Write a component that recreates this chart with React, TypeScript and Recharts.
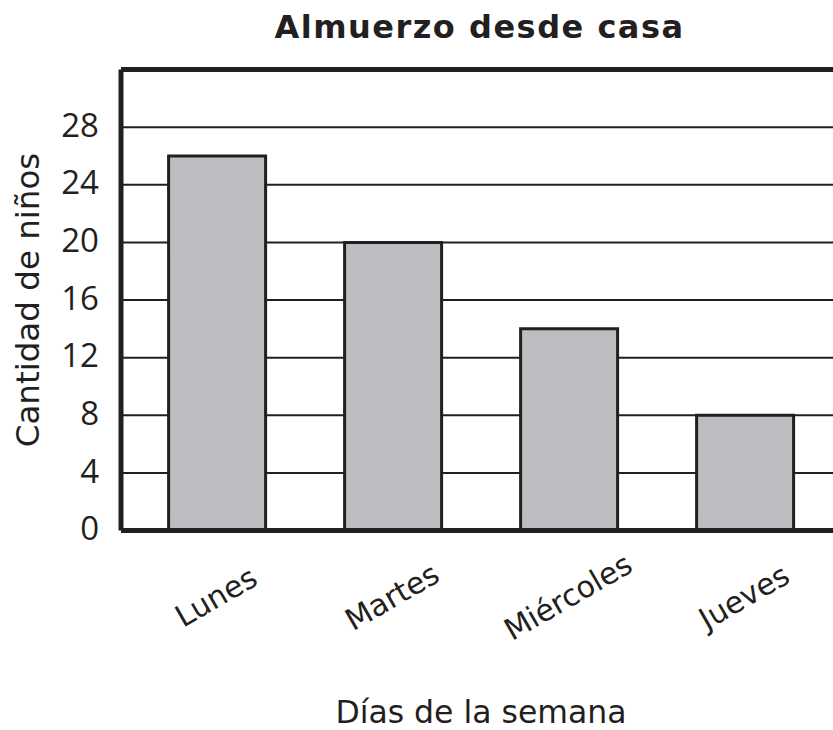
import { BarChart, Bar, XAxis, YAxis, CartesianGrid, ReferenceLine, Label } from 'recharts';

const days = ['Lunes', 'Martes', 'Miércoles', 'Jueves'];
const kids = [26, 20, 14, 8];
const yTicks = [0, 4, 8, 12, 16, 20, 24, 28];

const data = days.map((day, i) => ({ day, kids: kids[i] }));

const INK = '#231f20';
const FONT = '"DejaVu Sans", Verdana, sans-serif';

const DayTick = (props: any) => {
    const { x, y, payload } = props;
    const cy = y + 60;
    return (
        <text
            x={x}
            y={cy}
            textAnchor="middle"
            dominantBaseline="middle"
            fill={INK}
            fontSize={30}
            fontFamily={FONT}
            transform={`rotate(-30, ${x}, ${cy})`}
        >
            {payload.value}
        </text>
    );
};

export default function App() {
    return (
        <div style={{ position: 'absolute', left: 0, top: 0, width: 833, height: 730, overflow: 'hidden', background: '#fff' }}>
            <div
                style={{
                    position: 'absolute',
                    top: 8,
                    left: 0,
                    width: 833,
                    textAlign: 'center',
                    paddingLeft: 126,
                    boxSizing: 'border-box',
                    fontFamily: FONT,
                    fontWeight: 'bold',
                    fontSize: 32,
                    letterSpacing: 1.5,
                    color: INK,
                }}
            >
                Almuerzo desde casa
            </div>
            <BarChart
                width={860}
                height={730}
                data={data}
                margin={{ top: 69.5, right: 19, left: 0, bottom: 0 }}
                barCategoryGap="22.5%"
            >
                <CartesianGrid horizontal vertical={false} stroke={INK} strokeWidth={2} />
                <XAxis
                    dataKey="day"
                    axisLine={{ stroke: INK, strokeWidth: 5 }}
                    tickLine={false}
                    tick={<DayTick />}
                    interval={0}
                    padding={{ left: 8, right: 8 }}
                    height={199.5}
                >
                    <Label value="Días de la semana" position="insideBottom" offset={7} fill={INK} fontSize={31.5} fontFamily={FONT} />
                </XAxis>
                <YAxis
                    domain={[0, 32]}
                    ticks={yTicks}
                    allowDataOverflow
                    axisLine={{ stroke: INK, strokeWidth: 5 }}
                    tickLine={false}
                    tickMargin={16}
                    width={121}
                    tick={{ fill: INK, fontSize: 33, fontFamily: '"Open Sans", sans-serif', dy: -2 }}
                >
                    <Label
                        value="Cantidad de niños"
                        angle={-90}
                        position="insideLeft"
                        offset={27}
                        style={{ textAnchor: 'middle' }}
                        fill={INK}
                        fontSize={32.5}
                        fontFamily={FONT}
                    />
                </YAxis>
                <ReferenceLine y={32} stroke={INK} strokeWidth={5} />
                <Bar dataKey="kids" fill="#bcbdc0" stroke={INK} strokeWidth={3} isAnimationActive={false} />
            </BarChart>
        </div>
    );
}
